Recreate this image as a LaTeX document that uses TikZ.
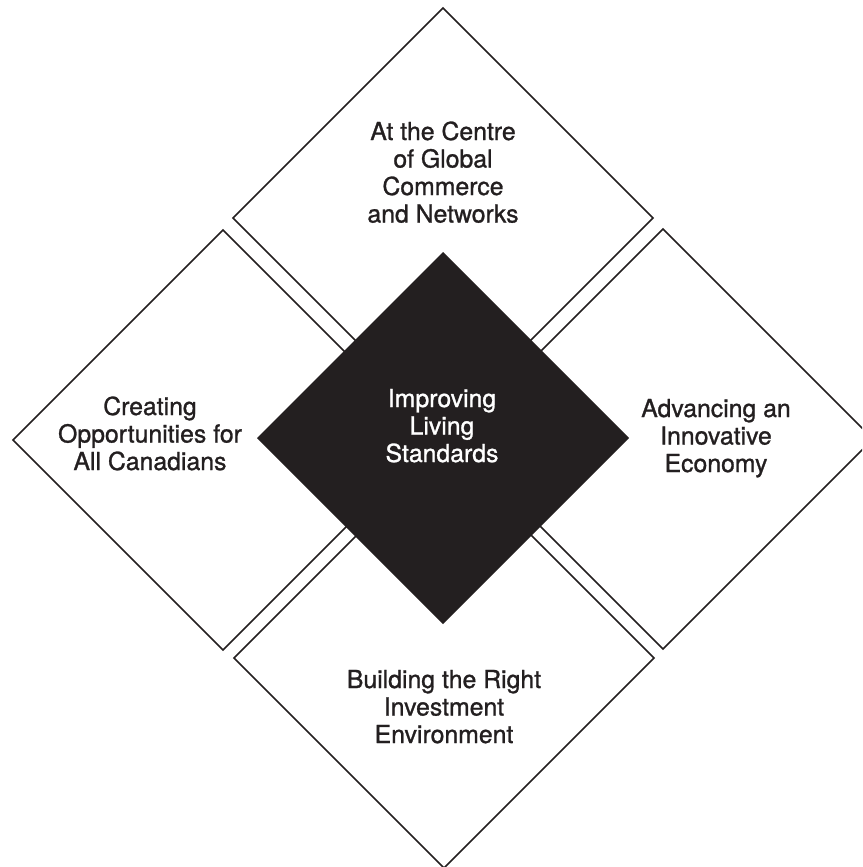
\documentclass[tikz,border=0pt]{standalone}
\usepackage{fontspec}
\setmainfont{TeX Gyre Heros}[FakeBold=1.1]
\definecolor{ink}{HTML}{231F20}
\begin{document}
\begin{tikzpicture}[x=1pt,y=-1pt,
  outline/.style={draw=ink,line width=1.6pt,line join=miter},
  core/.style={fill=ink,draw=none},
  lbl/.style={anchor=base,inner sep=0pt,text=ink,font=\fontsize{24.8}{27.5}\selectfont},
  lblw/.style={lbl,text=white}]
\useasboundingbox (0,0) rectangle (862,867);
\begin{scope}
\clip (0,0) rectangle (862,867);
% outer diamonds
\draw[outline] (443,8) -- (653,218) -- (443,428) -- (233,218) -- cycle;
\draw[outline] (223,230) -- (433,440) -- (223,650) -- (13,440) -- cycle;
\draw[outline] (663,229) -- (873,439) -- (663,649) -- (453,439) -- cycle;
\draw[outline] (444,448) -- (654,658) -- (444,868) -- (234,658) -- cycle;
% central diamond
\fill[core] (443,252) -- (629,438) -- (443,624) -- (257,438) -- cycle;
\end{scope}
\node[lbl] (top) at (443,140) {\begin{tabular}[t]{@{}c@{}}At the Centre\\of Global\\Commerce\\and Networks\end{tabular}};
\node[lblw] (mid) at (442,407) {\begin{tabular}[t]{@{}c@{}}Improving\\Living\\Standards\end{tabular}};
\node[lbl] (left) at (150,415) {\begin{tabular}[t]{@{}c@{}}Creating\\Opportunities for\\All Canadians\end{tabular}};
\node[lbl] (right) at (716,417) {\begin{tabular}[t]{@{}c@{}}Advancing an\\Innovative\\Economy\end{tabular}};
\node[lbl] (bottom) at (444,688) {\begin{tabular}[t]{@{}c@{}}Building the Right\\Investment\\Environment\end{tabular}};
\end{tikzpicture}
\end{document}
